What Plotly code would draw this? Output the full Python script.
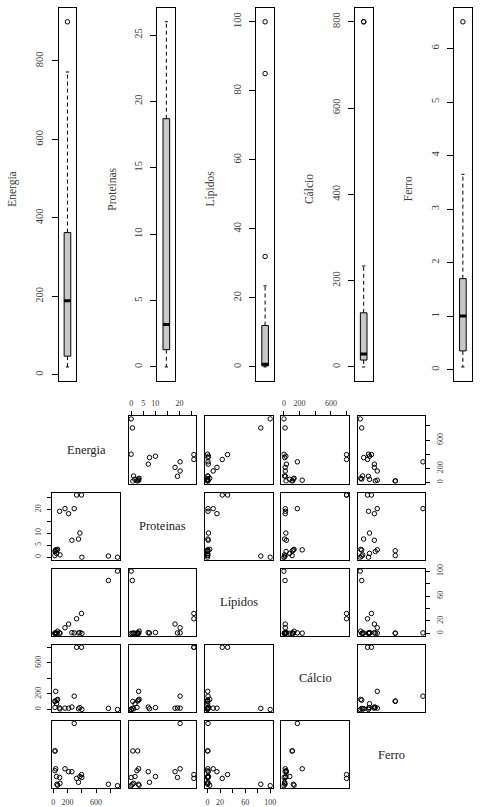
import numpy as np
import plotly.graph_objects as go

# ---------------- data (20 foods) ----------------
names = ["Energia", "Proteinas", "Lípidos", "Cálcio", "Ferro"]
energia = [900, 772, 400, 395, 326, 372, 353, 260, 293, 214, 163, 88, 20, 25, 33, 22, 45, 60, 50, 93]
proteinas = [0, 0.5, 0, 26, 26, 10.1, 7.6, 7.1, 20.3, 18.2, 20.3, 19.2, 0.7, 2.7, 3.1, 2.4, 1.6, 3.3, 3.0, 1.0]
lipidos = [100, 85, 0, 32, 23.5, 1.5, 0.6, 1.2, 0.8, 15, 9, 0.8, 0.3, 0.4, 0.4, 0.3, 0.2, 3.5, 0.2, 0.3]
calcio = [0, 15, 2, 800, 800, 25, 10, 32, 172, 17, 18, 20, 105, 109, 234, 28, 75, 130, 121, 8]
ferro = [0.05, 0.2, 0.9, 1.2, 0.8, 1.0, 0.4, 1.5, 6.5, 1.5, 1.8, 0.9, 3.65, 3.65, 1.8, 1.6, 1.0, 0.1, 0.2, 0.3]

# tick values / labels
energia_ticks = [0, 200, 400, 600, 800]
proteinas_ticks = [0, 5, 10, 15, 20, 25]
lipidos_ticks = [0, 20, 40, 60, 80, 100]
calcio_ticks = [0, 200, 400, 600, 800]
ferro_ticks = [0, 1, 2, 3, 4, 5, 6]
energia_pair_labels = ["0", "200", "", "600", ""]
proteinas_pair_labels = ["0", "5", "10", "", "20", ""]
lipidos_pair_labels = ["0", "20", "", "60", "", "100"]
calcio_pair_labels = ["0", "200", "", "600", ""]
ferro_pair_labels = ["0", "", "2", "", "4", "", "6"]

variables = [energia, proteinas, lipidos, calcio, ferro]
ticks = [energia_ticks, proteinas_ticks, lipidos_ticks, calcio_ticks, ferro_ticks]
pair_labels = [energia_pair_labels, proteinas_pair_labels, lipidos_pair_labels,
               calcio_pair_labels, ferro_pair_labels]

W, H = 486, 807
FONT = "Liberation Serif"
TXT = "#3a3a3a"


def xd(a, b):
    return [a / W, b / W]


def yd(a, b):
    return [1 - b / H, 1 - a / H]


def rng(v):
    lo, hi = min(v), max(v)
    p = 0.04 * (hi - lo)
    return [lo - p, hi + p]


def fivenum(v):
    x = np.sort(np.asarray(v, float))
    n = len(x)
    n4 = np.floor((n + 3) / 2) / 2
    d = np.array([1, n4, (n + 1) / 2, n + 1 - n4, n]) - 1
    return 0.5 * (x[np.floor(d).astype(int)] + x[np.ceil(d).astype(int)])


fig = go.Figure()
layout = {}
annotations = []

# ---------------- top boxplots ----------------
box_x0 = [58, 157.7, 257.3, 356.7, 456.7]
BW = 0.186
CAP = 0.09
for k, v in enumerate(variables):
    n = k + 1
    xs = "" if n == 1 else str(n)
    x0 = box_x0[k]
    layout["xaxis" + xs] = dict(domain=xd(x0, x0 + 18), range=[0.5, 1.5], anchor="y" + xs,
                                showline=True, mirror=True, linecolor="black", linewidth=1,
                                showticklabels=False, ticks="", showgrid=False, zeroline=False)
    layout["yaxis" + xs] = dict(domain=yd(3, 380), range=rng(v), anchor="x" + xs,
                                showline=True, mirror=True, linecolor="black", linewidth=1,
                                ticks="outside", ticklen=6, tickcolor="black",
                                tickvals=ticks[k], tickangle=-90,
                                tickfont=dict(family=FONT, size=10.5, color=TXT),
                                ticklabelstandoff=4,
                                showgrid=False, zeroline=False)
    mn, q1, med, q3, mx = fivenum(v)
    iqr = q3 - q1
    arr = np.asarray(v, float)
    uw = arr[arr <= q3 + 1.5 * iqr].max()
    lw = arr[arr >= q1 - 1.5 * iqr].min()
    outl = arr[(arr > uw) | (arr < lw)]
    xa, ya = "x" + xs, "y" + xs
    fig.add_trace(go.Scatter(x=[1, 1, None, 1, 1], y=[q3, uw, None, q1, lw], mode="lines",
                             line=dict(color="black", width=1, dash="4px,3px"),
                             xaxis=xa, yaxis=ya, showlegend=False, hoverinfo="skip"))
    fig.add_trace(go.Scatter(x=[1 - CAP, 1 + CAP, None, 1 - CAP, 1 + CAP],
                             y=[uw, uw, None, lw, lw], mode="lines",
                             line=dict(color="black", width=1),
                             xaxis=xa, yaxis=ya, showlegend=False, hoverinfo="skip"))
    fig.add_trace(go.Scatter(x=[1 - BW, 1 + BW, 1 + BW, 1 - BW, 1 - BW],
                             y=[q1, q1, q3, q3, q1], mode="lines", fill="toself",
                             fillcolor="#c8c8c8", line=dict(color="black", width=1),
                             xaxis=xa, yaxis=ya, showlegend=False, hoverinfo="skip"))
    fig.add_trace(go.Scatter(x=[1 - BW, 1 + BW], y=[med, med], mode="lines",
                             line=dict(color="black", width=3),
                             xaxis=xa, yaxis=ya, showlegend=False, hoverinfo="skip"))
    if len(outl):
        fig.add_trace(go.Scatter(x=[1] * len(outl), y=outl, mode="markers",
                                 marker=dict(symbol="circle-open", size=4.5, color="black",
                                             line=dict(width=1)),
                                 xaxis=xa, yaxis=ya, showlegend=False))
    annotations.append(dict(text=names[k], x=(x0 - 46) / W, y=1 - 186 / H, xref="paper",
                            yref="paper", showarrow=False, textangle=-90,
                            font=dict(family=FONT, size=11.5, color=TXT),
                            xanchor="center", yanchor="middle"))

# ---------------- scatter matrix ----------------
col_x0 = [51.7 + 77 * j for j in range(5)]
row_y0 = [416 + 77 * i for i in range(5)]
PW, PH = 68.3, 68
for i in range(5):
    for j in range(5):
        n = 6 + i * 5 + j
        xs = str(n)
        xa = dict(domain=xd(col_x0[j], col_x0[j] + PW), range=rng(variables[j]), anchor="y" + xs,
                  showline=True, mirror=True, linecolor="black", linewidth=1,
                  showgrid=False, zeroline=False, showticklabels=False, ticks="")
        ya = dict(domain=yd(row_y0[i], row_y0[i] + PH), range=rng(variables[i]), anchor="x" + xs,
                  showline=True, mirror=True, linecolor="black", linewidth=1,
                  showgrid=False, zeroline=False, showticklabels=False, ticks="")
        tf = dict(family=FONT, size=8, color=TXT)
        if (i == 0 and j in (1, 3)) or (i == 4 and j in (0, 2, 4)):
            xa.update(side="top" if i == 0 else "bottom", ticks="outside", ticklen=4,
                      tickcolor="black", showticklabels=True, tickvals=ticks[j],
                      ticktext=pair_labels[j], tickfont=tf, ticklabelstandoff=2)
        if (j == 0 and i in (1, 3)) or (j == 4 and i in (0, 2, 4)):
            ya.update(side="left" if j == 0 else "right", ticks="outside", ticklen=4,
                      tickcolor="black", showticklabels=True, tickvals=ticks[i],
                      ticktext=pair_labels[i], tickfont=tf, tickangle=-90,
                      ticklabelstandoff=3)
        layout["xaxis" + xs] = xa
        layout["yaxis" + xs] = ya
        if i == j:
            annotations.append(dict(text=names[i], x=(col_x0[j] + PW / 2) / W,
                                    y=1 - (row_y0[i] + PH / 2) / H, xref="paper", yref="paper",
                                    showarrow=False, font=dict(family=FONT, size=12.5, color="#222"),
                                    xanchor="center", yanchor="middle"))
        else:
            fig.add_trace(go.Scatter(x=variables[j], y=variables[i], mode="markers",
                                     marker=dict(symbol="circle-open", size=4.5, color="black",
                                                 line=dict(width=1)),
                                     xaxis="x" + xs, yaxis="y" + xs, showlegend=False))

fig.update_layout(**layout)
fig.update_layout(width=W, height=H, margin=dict(l=0, r=0, t=0, b=0),
                  paper_bgcolor="white", plot_bgcolor="white",
                  annotations=annotations, showlegend=False)
fig.write_html("out.html")
